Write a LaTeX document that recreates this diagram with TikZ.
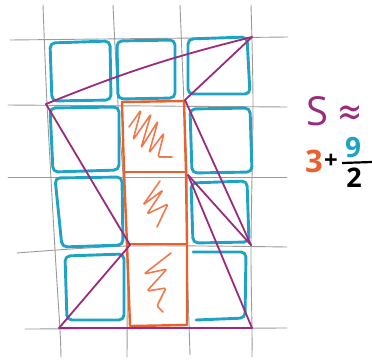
\documentclass[tikz,border=0pt]{standalone}
\usepackage{fontspec}
\usepackage{graphicx}
\setmainfont{Open Sans}
\newfontfamily\dejavu{DejaVu Sans}
\definecolor{bl}{HTML}{1FA3C4}
\definecolor{pu}{HTML}{9A2B7E}
\definecolor{orr}{HTML}{E8622D}
\definecolor{scr}{HTML}{EE7A4E}
\definecolor{pencil}{HTML}{9A9A9A}
\begin{document}
\begin{tikzpicture}[x=1pt,y=-1pt,
  gridline/.style={draw=pencil, line width=0.9pt, line cap=round},
  bsq/.style={draw=bl, line width=2.9pt, rounded corners=5pt, line cap=round, line join=round},
  osq/.style={draw=orr, line width=2.4pt, line cap=round, line join=round},
  scrib/.style={draw=scr, line width=1.6pt, line cap=round, line join=round, rounded corners=1.5pt},
  pline/.style={draw=pu, line width=1.8pt, line cap=round}]
\useasboundingbox (0,0) rectangle (372,362);

% pencil grid
\draw[gridline] plot[smooth] coordinates {(43,5) (47,104) (55,250) (60,330) (61,357)};
\draw[gridline] plot[smooth] coordinates {(113,5) (118,104) (123,175) (127,250) (127,357)};
\draw[gridline] plot[smooth] coordinates {(180,5) (184,104) (187,175) (187,250) (190,355)};
\draw[gridline] plot[smooth] coordinates {(251,5) (253,104) (251,245) (252,330) (252,357)};
\draw[gridline] (10,40) -- (288,37);
\draw[gridline] (8,105) -- (287,107);
\draw[gridline] (8,177) -- (287,177);
\draw[gridline] plot[smooth] coordinates {(17,253) (130,246) (287,247)};
\draw[gridline] (25,329) -- (287,328);

% blue squares
\draw[bsq] (50,43) -- (110,41) -- (111,100) -- (52,101) -- cycle;
\draw[bsq] (117,41) -- (175,40) -- (175,98) -- (118,99) -- cycle;
\draw[bsq] (188,39) -- (247,37) -- (250,94) -- (188,94) -- cycle;
\draw[bsq] (50,108) -- (119,107) -- (119,170) -- (53,172) -- cycle;
\draw[bsq] (190,109) -- (250,108) -- (252,172) -- (192,173) -- cycle;
\draw[bsq] (55,178) -- (122,177) -- (123,245) -- (62,247) -- cycle;
\draw[bsq] (191,183) -- (247,181) -- (249,242) -- (193,243) -- cycle;
\draw[bsq] (65,256) -- (124,254) -- (124,320) -- (67,320) -- cycle;
\draw[bsq] (196,320) -- (245,318) -- (246,252) -- (193,252);

% orange column
\draw[osq] (122,102) -- (184,101) -- (186,172) -- (187,244) -- (187,325) -- (130,326) -- (127,244) -- (124,172) -- cycle;
\draw[osq] (124,172) -- (186,172);
\draw[osq] (127,244) -- (187,244);

% scribbles
\draw[scrib] (129,127) -- (141,110) -- (133,140) -- (151,114) -- (141,148) -- (158,121) -- (149,153) -- (164,133) -- (158,157) -- (172,157);
\draw[scrib] (160,181) -- (143,205) -- (163,190) -- (147,214) -- (168,204) -- (157,227);
\draw[scrib] (171,253) -- (144,274) -- (167,269) -- (147,291) -- (166,288) -- (157,306) -- (163,312);

% purple triangulation
\coordinate (A) at (46,104);
\coordinate (B) at (252,37);
\coordinate (C) at (185,100);
\coordinate (D) at (188,175);
\coordinate (E) at (251,245);
\coordinate (F) at (252,328);
\coordinate (G) at (59,328);
\coordinate (H) at (130,245);
\draw[pline] (A) to[bend left=4] (B);
\draw[pline] (C) -- (B);
\draw[pline] (A) -- (H);
\draw[pline] (H) -- (G);
\draw[pline] (G) -- (F);
\draw[pline] (C) -- (E);
\draw[pline] (D) -- (E);
\draw[pline] (D) -- (F);

% formula
\node[text=pu, inner sep=0, font=\fontsize{40}{40}\selectfont] (S) at (317,111) {S};
\node[text=pu, inner sep=0, font=\dejavu\fontsize{30}{30}\selectfont] (ap) at (350,115) {\scalebox{1}[1.35]{≈}};
\node[text=orr, inner sep=0, font=\bfseries\fontsize{31}{31}\selectfont] (three) at (314,161) {3};
\node[text=black, inner sep=0, font=\bfseries\fontsize{24}{24}\selectfont] (plus) at (331,161) {+};
\node[text=bl, inner sep=0, font=\bfseries\fontsize{28}{28}\selectfont] (nine) at (353,148) {9};
\node[text=black, inner sep=0, font=\bfseries\fontsize{27}{27}\selectfont] (two) at (354,178) {2};
\coordinate (barL) at (342,163);
\coordinate (barR) at (372,162);
\draw[line width=2.2pt] (barL) -- (barR);
\end{tikzpicture}
\end{document}
